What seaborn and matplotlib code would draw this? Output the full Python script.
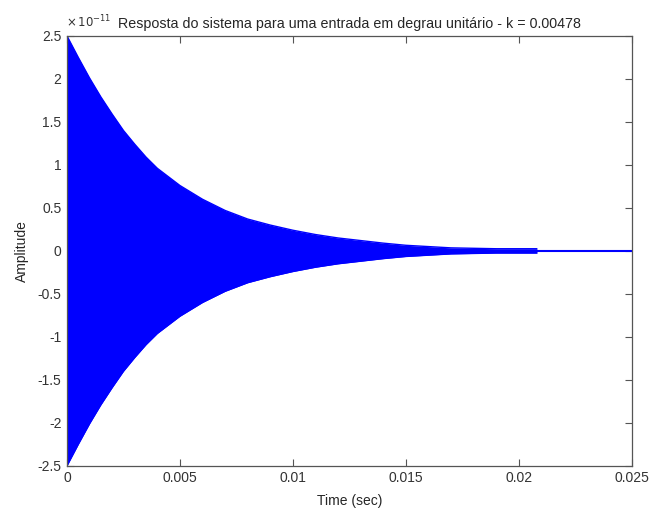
import numpy as np
import pandas as pd
import matplotlib
matplotlib.use('Agg')
import matplotlib.pyplot as plt
import seaborn as sns
from matplotlib.ticker import FormatStrFormatter

# envelope da resposta (unidades de 1e-11)
t_env = [0, 0.0005, 0.001, 0.0015, 0.002, 0.0025, 0.003, 0.0035, 0.004, 0.005, 0.006,
         0.007, 0.008, 0.009, 0.010, 0.011, 0.012, 0.013, 0.014, 0.015, 0.016,
         0.017, 0.018, 0.019, 0.020, 0.0208]
amp_env = [2.50, 2.25, 2.01, 1.79, 1.59, 1.40, 1.24, 1.09, 0.96, 0.76, 0.60,
           0.47, 0.37, 0.30, 0.24, 0.19, 0.15, 0.12, 0.09, 0.065, 0.05,
           0.035, 0.03, 0.025, 0.025, 0.025]
t_final = [0, 0.025]
y_final = [0, 0]

x_ticks = [0, 0.005, 0.01, 0.015, 0.02, 0.025]
y_ticks = [-2.5, -2, -1.5, -1, -0.5, 0, 0.5, 1, 1.5, 2, 2.5]

sns.set_style('ticks')
plt.rcParams['font.family'] = ['Liberation Sans', 'DejaVu Sans']

df = pd.DataFrame({'t': t_env, 'up': amp_env, 'low': [-a for a in amp_env]})

fig = plt.figure(figsize=(6.5, 5.12), dpi=100)
ax = fig.add_axes([0.103, 0.090, 0.869, 0.840])

ax.fill_between(df['t'], df['low'], df['up'], color='#0000ff', linewidth=0)
sns.lineplot(x=df['t'], y=df['up'], color='#0000ff', linewidth=1, ax=ax)
sns.lineplot(x=df['t'], y=df['low'], color='#0000ff', linewidth=1, ax=ax)
sns.lineplot(x=t_final, y=y_final, color='#0000ff', linewidth=1.5, ax=ax)

ax.set_xlim(0, 0.025)
ax.set_ylim(-2.5, 2.5)
ax.set_xticks(x_ticks)
ax.set_yticks(y_ticks)
ax.xaxis.set_major_formatter(FormatStrFormatter('%g'))
ax.yaxis.set_major_formatter(FormatStrFormatter('%g'))
ax.tick_params(direction='in', length=5, width=0.8, colors='#555555',
               labelcolor='#333333', labelsize=10, top=True, right=True, pad=4)
for s in ax.spines.values():
    s.set_color('#555555')
    s.set_linewidth(0.9)

ax.set_xlabel('Time (sec)', fontsize=10, labelpad=6)
ax.set_ylabel('Amplitude', fontsize=10, labelpad=6)
ax.set_title('Resposta do sistema para uma entrada em degrau unitário - k = 0.00478',
             fontsize=10.3, pad=6)
ax.text(-0.002, 1.012, r'$\times\,10^{-11}$', transform=ax.transAxes, fontsize=8.5,
        color='#333333', ha='left', va='bottom')

fig.savefig('out.png', dpi=100, facecolor='white')
